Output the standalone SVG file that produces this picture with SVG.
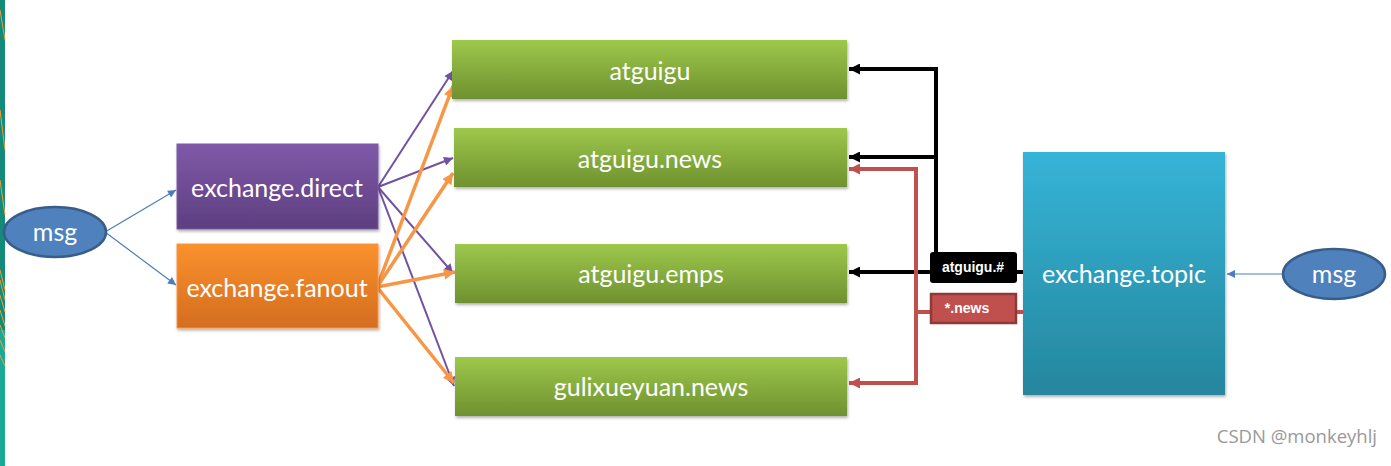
<svg xmlns="http://www.w3.org/2000/svg" width="1391" height="466" viewBox="0 0 1391 466">
<defs>
<linearGradient id="gGreen" x1="0" y1="0" x2="0" y2="1"><stop offset="0" stop-color="#9dc84b"/><stop offset="1" stop-color="#6f9130"/></linearGradient>
<linearGradient id="gPurple" x1="0" y1="0" x2="0" y2="1"><stop offset="0" stop-color="#8059a8"/><stop offset="1" stop-color="#5d3f80"/></linearGradient>
<linearGradient id="gOrange" x1="0" y1="0" x2="0" y2="1"><stop offset="0" stop-color="#fb912d"/><stop offset="1" stop-color="#d46d1f"/></linearGradient>
<linearGradient id="gBlue" x1="0" y1="0" x2="0" y2="1"><stop offset="0" stop-color="#36b4d8"/><stop offset="1" stop-color="#25869d"/></linearGradient>
<filter id="sh" x="-5%" y="-5%" width="115%" height="120%"><feDropShadow dx="1" dy="2" stdDeviation="1.5" flood-color="#000" flood-opacity="0.3"/></filter>
<marker id="mBlue" viewBox="0 0 10 10" refX="10" refY="5" markerWidth="10" markerHeight="8" markerUnits="userSpaceOnUse" orient="auto"><path d="M0,0 L10,5 L0,10 z" fill="#4a7ebb"/></marker>
<marker id="mPurple" viewBox="0 0 10 10" refX="10" refY="5" markerWidth="11" markerHeight="9" markerUnits="userSpaceOnUse" orient="auto"><path d="M0,0 L10,5 L0,10 z" fill="#7052a0"/></marker>
<marker id="mOrange" viewBox="0 0 10 10" refX="10" refY="5" markerWidth="13" markerHeight="11" markerUnits="userSpaceOnUse" orient="auto"><path d="M0,0 L10,5 L0,10 z" fill="#f79646"/></marker>
<marker id="mBlack" viewBox="0 0 10 10" refX="10" refY="5" markerWidth="12" markerHeight="11" markerUnits="userSpaceOnUse" orient="auto"><path d="M0,0 L10,5 L0,10 z" fill="#000"/></marker>
<marker id="mRed" viewBox="0 0 10 10" refX="10" refY="5" markerWidth="12" markerHeight="11" markerUnits="userSpaceOnUse" orient="auto"><path d="M0,0 L10,5 L0,10 z" fill="#c0504d"/></marker>
</defs>
<style>
.t{font-family:Lato,"Open Sans","Noto Sans",sans-serif;font-size:25px;fill:#fff;text-anchor:middle;dominant-baseline:central}
.lbl{font-family:"Liberation Sans",Arial,sans-serif;font-size:14px;font-weight:bold;fill:#fff;text-anchor:middle;dominant-baseline:central}
.blue{stroke:#4a7ebb;stroke-width:1.2;fill:none}
.pur{stroke:#7052a0;stroke-width:2;fill:none}
.ora{stroke:#f79646;stroke-width:3.5;fill:none}
.blk{stroke:#000;stroke-width:4;fill:none}
.red{stroke:#c0504d;stroke-width:4;fill:none}
</style>
<rect x="0" y="0" width="1391" height="466" fill="#fff"/>
<g id="edge">
<rect x="0" y="0" width="5" height="466" fill="#138a7a"/>
<rect x="0" y="330" width="5" height="136" fill="#1aa897"/>
<path d="M0,10 L5,40 M0,110 L5,150 M0,180 L5,215 M0,270 L5,290 M0,280 L5,300 M0,295 L5,312 M0,310 L5,326 M0,325 L5,338 M0,340 L5,352 M0,355 L5,366" stroke="#f0a030" stroke-width="1" fill="none"/>
</g>
<g id="connectors">
<path class="blue" d="M105,232 L176,190" marker-end="url(#mBlue)"/>
<path class="blue" d="M105,232 L176,285" marker-end="url(#mBlue)"/>
<path class="blue" d="M1283,274 L1227,274" marker-end="url(#mBlue)"/>
<path class="pur" d="M378,187 L453,71" marker-end="url(#mPurple)"/>
<path class="pur" d="M378,187 L453,158" marker-end="url(#mPurple)"/>
<path class="pur" d="M378,187 L453,273" marker-end="url(#mPurple)"/>
<path class="pur" d="M378,187 L454,386" marker-end="url(#mPurple)"/>
<path class="ora" d="M377,287 L453,86" marker-end="url(#mOrange)"/>
<path class="ora" d="M377,287 L453,173" marker-end="url(#mOrange)"/>
<path class="ora" d="M377,287 L455,272" marker-end="url(#mOrange)"/>
<path class="ora" d="M377,287 L454,383" marker-end="url(#mOrange)"/>
<path class="blk" d="M936,253 L936,69 L849,69" marker-end="url(#mBlack)"/>
<path class="blk" d="M936,157 L849,157" marker-end="url(#mBlack)"/>
<path class="blk" d="M1023,272 L849,272" marker-end="url(#mBlack)"/>
<path class="red" d="M1023,312 L916,312 L916,169 L849,169" marker-end="url(#mRed)"/>
<path class="red" d="M916,312 L916,383 L849,383" marker-end="url(#mRed)"/>
</g>
<g id="msg-left"><ellipse cx="55" cy="232" rx="51" ry="25" fill="#4f81bd" stroke="#385d8a" stroke-width="2.5"/><text class="t" x="55" y="231">msg</text></g>
<g id="exchange-direct"><rect x="177" y="144" width="201" height="85" fill="url(#gPurple)" stroke="#7c5ba4" stroke-width="1" filter="url(#sh)"/><text class="t" x="277" y="187">exchange.direct</text></g>
<g id="exchange-fanout"><rect x="177" y="244" width="201" height="84" fill="url(#gOrange)" stroke="#f79646" stroke-width="1" filter="url(#sh)"/><text class="t" x="277" y="287">exchange.fanout</text></g>
<g id="q-atguigu"><rect x="452" y="40" width="395" height="59" fill="url(#gGreen)" filter="url(#sh)"/><text class="t" x="650" y="70">atguigu</text></g>
<g id="q-atguigu-news"><rect x="454" y="128" width="393" height="59" fill="url(#gGreen)" filter="url(#sh)"/><text class="t" x="650" y="158">atguigu.news</text></g>
<g id="q-atguigu-emps"><rect x="455" y="244" width="392" height="59" fill="url(#gGreen)" filter="url(#sh)"/><text class="t" x="651" y="273">atguigu.emps</text></g>
<g id="q-gulixueyuan-news"><rect x="455" y="357" width="392" height="59" fill="url(#gGreen)" filter="url(#sh)"/><text class="t" x="651" y="386">gulixueyuan.news</text></g>
<g id="label-atguigu-hash"><rect x="930" y="252" width="87" height="31" rx="3" fill="#000"/><text class="lbl" x="973" y="267">atguigu.#</text></g>
<g id="label-news"><rect x="931" y="294" width="85" height="29" fill="#c0504d" stroke="#8e3b38" stroke-width="2.5"/><text class="lbl" x="967" y="308">*.news</text></g>
<g id="exchange-topic"><rect x="1023" y="152" width="202" height="243" fill="url(#gBlue)" filter="url(#sh)"/><text class="t" x="1124" y="273">exchange.topic</text></g>
<g id="msg-right"><ellipse cx="1334" cy="274" rx="51" ry="25" fill="#4f81bd" stroke="#385d8a" stroke-width="2.5"/><text class="t" x="1334" y="273">msg</text></g>
<text x="1377" y="443" font-family="'Open Sans','Noto Sans',sans-serif" font-size="18.5" fill="#999" text-anchor="end">CSDN @monkeyhlj</text>
</svg>
